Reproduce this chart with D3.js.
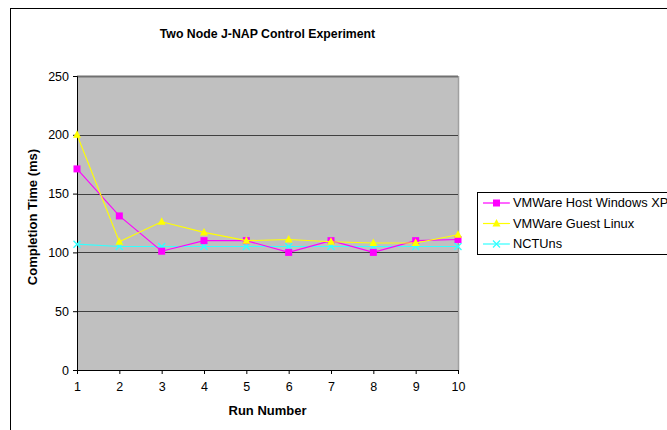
<!DOCTYPE html>
<html>
<head>
<meta charset="utf-8">
<script src="https://cdn.jsdelivr.net/npm/d3@7"></script>
<style>
  body { margin: 0; background: #fff; }
  text { font-family: "Liberation Sans", Arial, sans-serif; }
</style>
</head>
<body>
<div id="chart"></div>
<script>
// Chart data
const runs = [1, 2, 3, 4, 5, 6, 7, 8, 9, 10];
const hostWindowsXP = [171, 131, 101, 110, 110, 100, 110, 100, 110, 111];
const guestLinux = [200, 109, 126, 117, 110, 111, 109, 108, 108, 115];
const nctuns = [107, 105, 105, 105, 105, 105, 105, 105, 105, 105];
const yTicks = [0, 50, 100, 150, 200, 250];
const seriesNames = ['VMWare Host Windows XP', 'VMWare Guest Linux', 'NCTUns'];

const config = {
  width: 667,
  height: 430,
  plot: {left: 77, right: 458, top: 76, bottom: 370},
  colors: ['#ff00ff', '#ffff00', '#33ffff'],
  symbols: ['square', 'triangle', 'cross']
};

const series = [hostWindowsXP, guestLinux, nctuns].map((vals, i) => ({
  name: seriesNames[i],
  color: config.colors[i],
  symbol: config.symbols[i],
  values: vals.map((v, j) => ({x: runs[j], y: v}))
}));

const svg = d3.select('#chart').append('svg')
    .attr('width', config.width)
    .attr('height', config.height);

// outer chart frame (extends past the right and bottom edges)
svg.append('rect')
    .attr('x', 10.5).attr('y', 8.5)
    .attr('width', 700).attr('height', 500)
    .attr('fill', '#fff')
    .attr('stroke', '#000');

const p = config.plot;
const x = d3.scaleLinear().domain([1, 10]).range([p.left, p.right]);
const y = d3.scaleLinear().domain([0, 250]).range([p.bottom, p.top]);

// plot area
svg.append('rect')
    .attr('x', p.left).attr('y', p.top)
    .attr('width', p.right - p.left).attr('height', p.bottom - p.top)
    .attr('fill', '#c0c0c0');

svg.append('line')
    .attr('x1', p.right + 0.5).attr('x2', p.right + 0.5)
    .attr('y1', p.top).attr('y2', p.bottom)
    .attr('stroke', '#a0a0a0').attr('stroke-width', 1.5);

// gridlines
svg.append('g').selectAll('line')
    .data(yTicks.filter(d => d > 0))
    .join('line')
    .attr('x1', p.left).attr('x2', p.right)
    .attr('y1', d => Math.round(y(d)) + 0.5)
    .attr('y2', d => Math.round(y(d)) + 0.5)
    .attr('stroke', d => d === 250 ? '#707070' : '#404040')
    .attr('stroke-width', d => d === 250 ? 2 : 1.2);

// axes
const yAxis = svg.append('g')
    .attr('transform', `translate(${p.left},0)`)
    .call(d3.axisLeft(y).tickValues(yTicks).tickSize(4).tickPadding(4));
const xAxis = svg.append('g')
    .attr('transform', `translate(0,${p.bottom})`)
    .call(d3.axisBottom(x).tickValues(runs).tickSize(4).tickPadding(6).tickFormat(d3.format('d')));

[yAxis, xAxis].forEach(a => {
  a.select('.domain').attr('stroke', '#000');
  a.selectAll('.tick line').attr('stroke', '#000');
  a.selectAll('.tick text').attr('font-size', 12.5).attr('fill', '#000')
      .style('font-family', '"Liberation Sans", Arial, sans-serif');
});
xAxis.selectAll('.tick text').attr('dy', '0.85em');

// titles
svg.append('text')
    .attr('x', (p.left + p.right) / 2).attr('y', 38)
    .attr('text-anchor', 'middle')
    .attr('font-size', 12.3).attr('font-weight', 'bold')
    .text('Two Node J-NAP Control Experiment');

svg.append('text')
    .attr('x', (p.left + p.right) / 2).attr('y', 415)
    .attr('text-anchor', 'middle')
    .attr('font-size', 13).attr('font-weight', 'bold')
    .text('Run Number');

svg.append('text')
    .attr('transform', `translate(37,${(p.top + p.bottom) / 2 - 6}) rotate(-90)`)
    .attr('text-anchor', 'middle')
    .attr('font-size', 13).attr('font-weight', 'bold')
    .text('Completion Time (ms)');

// marker drawing helper
function drawMarker(g, d, color, symbol) {
  if (symbol === 'square') {
    g.append('rect')
        .attr('x', d[0] - 3.5).attr('y', d[1] - 3.5)
        .attr('width', 7).attr('height', 7)
        .attr('fill', color);
  } else if (symbol === 'triangle') {
    g.append('path')
        .attr('d', `M${d[0]},${d[1] - 4.5}L${d[0] + 4},${d[1] + 3}L${d[0] - 4},${d[1] + 3}Z`)
        .attr('fill', color);
  } else {
    g.append('path')
        .attr('d', `M${d[0] - 3.5},${d[1] - 3.5}L${d[0] + 3.5},${d[1] + 3.5}M${d[0] + 3.5},${d[1] - 3.5}L${d[0] - 3.5},${d[1] + 3.5}`)
        .attr('stroke', color).attr('stroke-width', 1.3).attr('fill', 'none');
  }
}

const line = d3.line().x(d => x(d.x)).y(d => y(d.y));

// draw series, NCTUns first so the others sit on top like the original
const drawOrder = [2, 0, 1];
drawOrder.forEach(i => {
  const s = series[i];
  const g = svg.append('g');
  g.append('path')
      .datum(s.values)
      .attr('d', line)
      .attr('fill', 'none')
      .attr('stroke', s.color)
      .attr('stroke-width', 1.1);
  s.values.forEach(v => drawMarker(g, [x(v.x), y(v.y)], s.color, s.symbol));
});

// legend
const legend = svg.append('g');
legend.append('rect')
    .attr('x', 477.5).attr('y', 192.5)
    .attr('width', 240).attr('height', 62)
    .attr('fill', '#fff').attr('stroke', '#000');

series.forEach((s, i) => {
  const ly = 203 + i * 20.5;
  const item = legend.append('g');
  item.append('line')
      .attr('x1', 483).attr('x2', 510)
      .attr('y1', ly).attr('y2', ly)
      .attr('stroke', s.color).attr('stroke-width', 1.2);
  drawMarker(item, [496.5, ly], s.color, s.symbol);
  item.append('text')
      .attr('x', 513).attr('y', ly).attr('dy', '0.35em')
      .attr('font-size', 12.8)
      .text(s.name);
});
</script>
</body>
</html>
